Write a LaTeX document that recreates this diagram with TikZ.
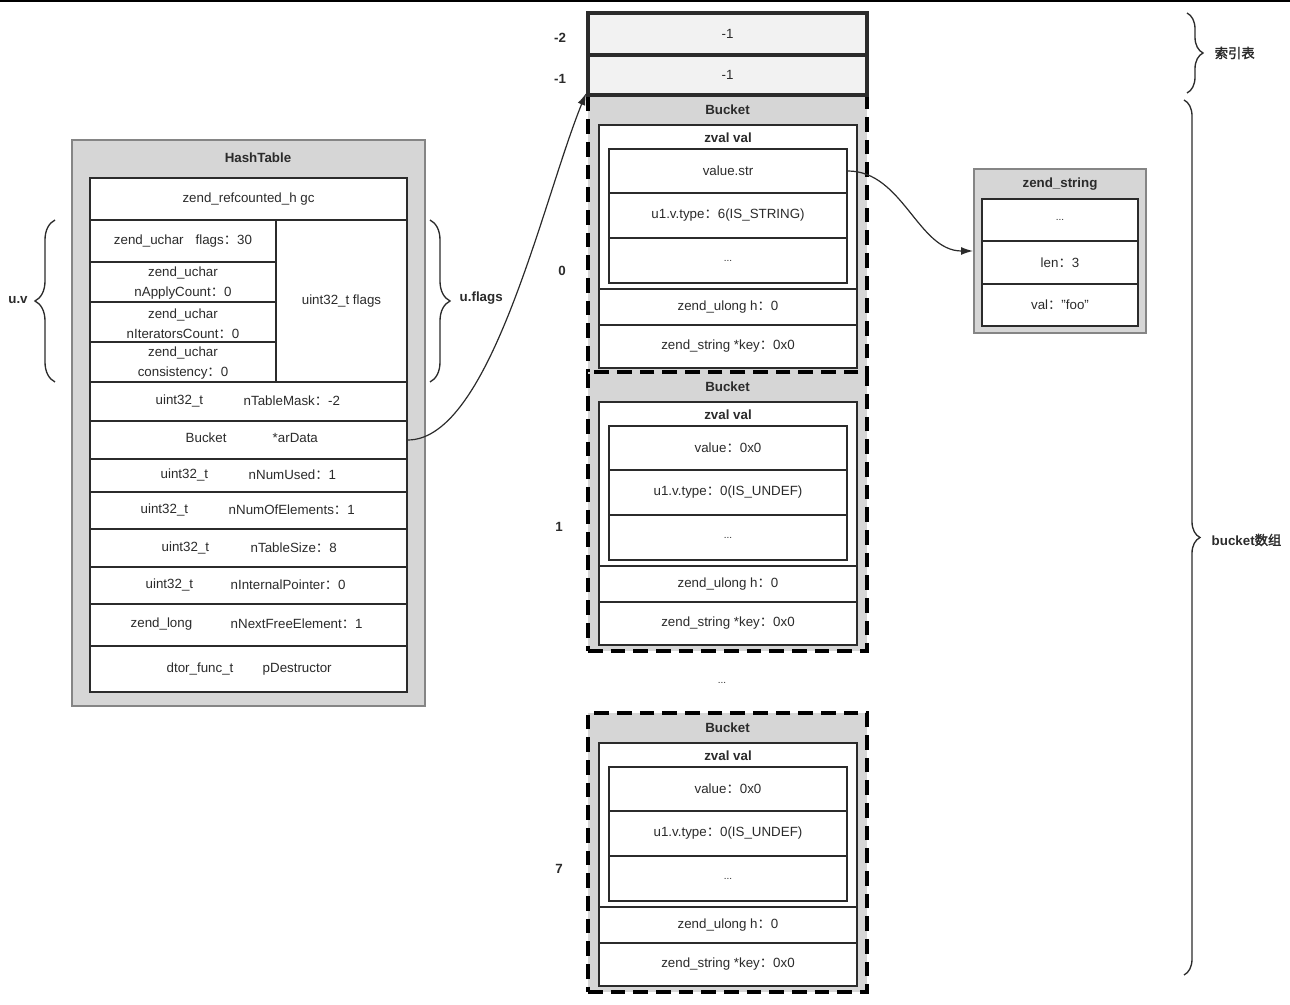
\documentclass[tikz,border=0pt]{standalone}
\usepackage{fontspec}
\setmainfont{Liberation Sans}
\newfontfamily\cjk{Noto Sans CJK SC}[AutoFakeBold=2]
\usetikzlibrary{arrows.meta,fit,decorations.pathreplacing}
\definecolor{boxgray}{HTML}{D6D6D6}
\definecolor{idxgray}{HTML}{F2F2F2}
\definecolor{edgegray}{HTML}{858585}
\definecolor{ink}{HTML}{2B2B2B}
\newcommand\fwc{{\cjk ：}}
\newcommand\bucketbox[4]{%
\begin{scope}[shift={(0,#2)}]
\node[bucketbox, fit={(588,0)(867,279)}] (#1out) {};
\node[ttl] (#1ttl) at (727.5,15) {Bucket};
\node[cell, fit={(599,30)(857,194)}] (#1zv) {};
\node[ttl] (#1zvt) at (728,43) {zval val};
\node[cell, fit={(609,54)(847,98)}] (#1val) {};
\node (#1valt) at (#1val) {#3};
\node[cell, fit={(609,98)(847,143)}] (#1typ) {};
\node (#1typt) at (#1typ) {#4};
\node[cell, fit={(609,143)(847,188)}] (#1etc) {};
\node[dots] (#1etct) at (#1etc) {...};
\node[cell, fit={(599,194)(857,230)}] (#1h) {};
\node (#1ht) at (#1h) {zend\_ulong h\fwc 0};
\node[cell, fit={(599,230)(857,273)}] (#1key) {};
\node (#1keyt) at (#1key) {zend\_string *key\fwc 0x0};
\end{scope}}
\begin{document}
\begin{tikzpicture}[x=0.75pt,y=-0.75pt,
  every node/.style={text=ink, font=\fontsize{10}{12}\selectfont},
  outerbox/.style={fill=boxgray, draw=edgegray, line width=1.5pt, inner sep=0pt},
  cell/.style={fill=white, draw=ink, line width=1.2pt, inner sep=0pt},
  idxcell/.style={fill=idxgray, draw=ink, line width=2.4pt, inner sep=0pt},
  bucketbox/.style={fill=boxgray, draw=black, line width=2.8pt, dash pattern=on 11pt off 6pt, inner sep=0pt},
  ttl/.style={font=\fontsize{10}{12}\selectfont\bfseries},
  lbl/.style={font=\fontsize{10}{12}\selectfont\bfseries},
  dots/.style={font=\fontsize{7.5}{8}\selectfont},
  conn/.style={draw=ink, line width=0.9pt, -{Latex[length=9pt,width=6pt]}},
  curly/.style={draw=ink, line width=1pt, decorate, decoration={brace, amplitude=#1}},
]
\useasboundingbox (0,0) rectangle (1290,1005);
\draw[line width=1.5pt, black] (0,1) -- (1290,1);

% ---------------- HashTable ----------------
\node[outerbox, fit={(72,140)(425,706)}] (ht) {};
\node[ttl] (htttl) at (258,158) {HashTable};
\node[cell, fit={(90,178)(407,220)}] (gc) {};
\node (gct) at (gc) {zend\_refcounted\_h gc};
\node[cell, fit={(276,220)(407,382)}] (uflags) {};
\node (uflagst) at (uflags) {uint32\_t flags};
\node[cell, fit={(90,220)(276,262)}] (flags) {};
\node (flagst) at (183,241) {zend\_uchar\hspace{0.9em}flags\fwc 30};
\node[cell, fit={(90,262)(276,302)}] (napply) {};
\node[align=center, font=\fontsize{10}{15}\selectfont] (napplyt) at ([yshift=-1pt]napply.center) {zend\_uchar\\nApplyCount\fwc 0};
\node[cell, fit={(90,302)(276,342)}] (niter) {};
\node[align=center, font=\fontsize{10}{15}\selectfont] (nitert) at ([yshift=-1pt]niter.center) {zend\_uchar\\nIteratorsCount\fwc 0};
\node[cell, fit={(90,342)(276,382)}] (consist) {};
\node[align=center, font=\fontsize{10}{15}\selectfont] (consistt) at ([yshift=-1pt]consist.center) {zend\_uchar\\consistency\fwc 0};

\node[cell, fit={(90,382)(407,421)}] (mask) {};
\node[anchor=west] (maska) at (151,401) {uint32\_t};
\node[anchor=west] (maskb) at (239,401) {nTableMask\fwc -2};
\node[cell, fit={(90,421)(407,459)}] (ardata) {};
\node[anchor=west] (ardataa) at (181,438) {Bucket};
\node[anchor=west] (ardatab) at (268,438) {*arData};
\node[cell, fit={(90,459)(407,492)}] (used) {};
\node[anchor=west] (useda) at (156,475) {uint32\_t};
\node[anchor=west] (usedb) at (244,475) {nNumUsed\fwc 1};
\node[cell, fit={(90,492)(407,529)}] (elems) {};
\node[anchor=west] (elemsa) at (136,510) {uint32\_t};
\node[anchor=west] (elemsb) at (224,510) {nNumOfElements\fwc 1};
\node[cell, fit={(90,529)(407,567)}] (tsize) {};
\node[anchor=west] (tsizea) at (157,548) {uint32\_t};
\node[anchor=west] (tsizeb) at (246,548) {nTableSize\fwc 8};
\node[cell, fit={(90,567)(407,604)}] (intp) {};
\node[anchor=west] (intpa) at (141,585) {uint32\_t};
\node[anchor=west] (intpb) at (226,585) {nInternalPointer\fwc 0};
\node[cell, fit={(90,604)(407,646)}] (nfree) {};
\node[anchor=west] (nfreea) at (126,624) {zend\_long};
\node[anchor=west] (nfreeb) at (226,624) {nNextFreeElement\fwc 1};
\node[cell, fit={(90,646)(407,692)}] (dtor) {};
\node[anchor=west] (dtora) at (162,669) {dtor\_func\_t};
\node[anchor=west] (dtorb) at (258,669) {pDestructor};

% braces u.v / u.flags
\draw[curly=15pt] (55,382) -- (55,220);
\node[lbl] (uv) at (18,300) {u.v};
\draw[curly=15pt] (430,220) -- (430,382);
\node[lbl, anchor=west] (uf) at (455,298) {u.flags};

% ---------------- Buckets ----------------
\bucketbox{bz}{95}{value.str}{u1.v.type\fwc 6(IS\_STRING)}
\bucketbox{bo}{372}{value\fwc 0x0}{u1.v.type\fwc 0(IS\_UNDEF)}
\node[dots] (between) at (722,683) {...};
\bucketbox{bs}{713}{value\fwc 0x0}{u1.v.type\fwc 0(IS\_UNDEF)}

% ---------------- index table ----------------
\node[idxcell, fit={(588,13)(867,55)}] (im2) {};
\node (im2t) at (im2) {-1};
\node[idxcell, fit={(588,55)(867,95)}] (im1) {};
\node (im1t) at (im1) {-1};

\node[lbl] (lm2) at (560,38) {-2};
\node[lbl] (lm1) at (560,79) {-1};
\node[lbl] (l0) at (562,271) {0};
\node[lbl] (l1) at (559,527) {1};
\node[lbl] (l7) at (559,869) {7};

% ---------------- zend_string ----------------
\node[outerbox, fit={(974,169)(1146,333)}] (zs) {};
\node[ttl] (zsttl) at (1060,184) {zend\_string};
\node[cell, fit={(982,199)(1138,241)}] (zsa) {};
\node[dots] (zsat) at (zsa) {...};
\node[cell, fit={(982,241)(1138,284)}] (zsb) {};
\node (zsbt) at (zsb) {len\fwc 3};
\node[cell, fit={(982,284)(1138,326)}] (zsc) {};
\node (zsct) at (zsc) {val\fwc \symbol{34}foo\symbol{34}};

% right braces
\draw[curly=12pt] (1187,13) -- (1187,93);
\node[lbl, anchor=west] (idxlbl) at (1210,53) {\cjk\bfseries 索引表};
\draw[curly=12pt] (1184,100) -- (1184,975);
\node[lbl, anchor=west] (bktlbl) at (1207,540) {bucket{\cjk\bfseries 数组}};

% ---------------- connectors ----------------
\draw[conn] (ardata.east) .. controls +(83,0) and +(-43,105) .. (bzout.north west);
\draw[conn] (bzval.east) .. controls +(55,0) and +(-55,0) .. (zs.west);
\end{tikzpicture}
\end{document}
